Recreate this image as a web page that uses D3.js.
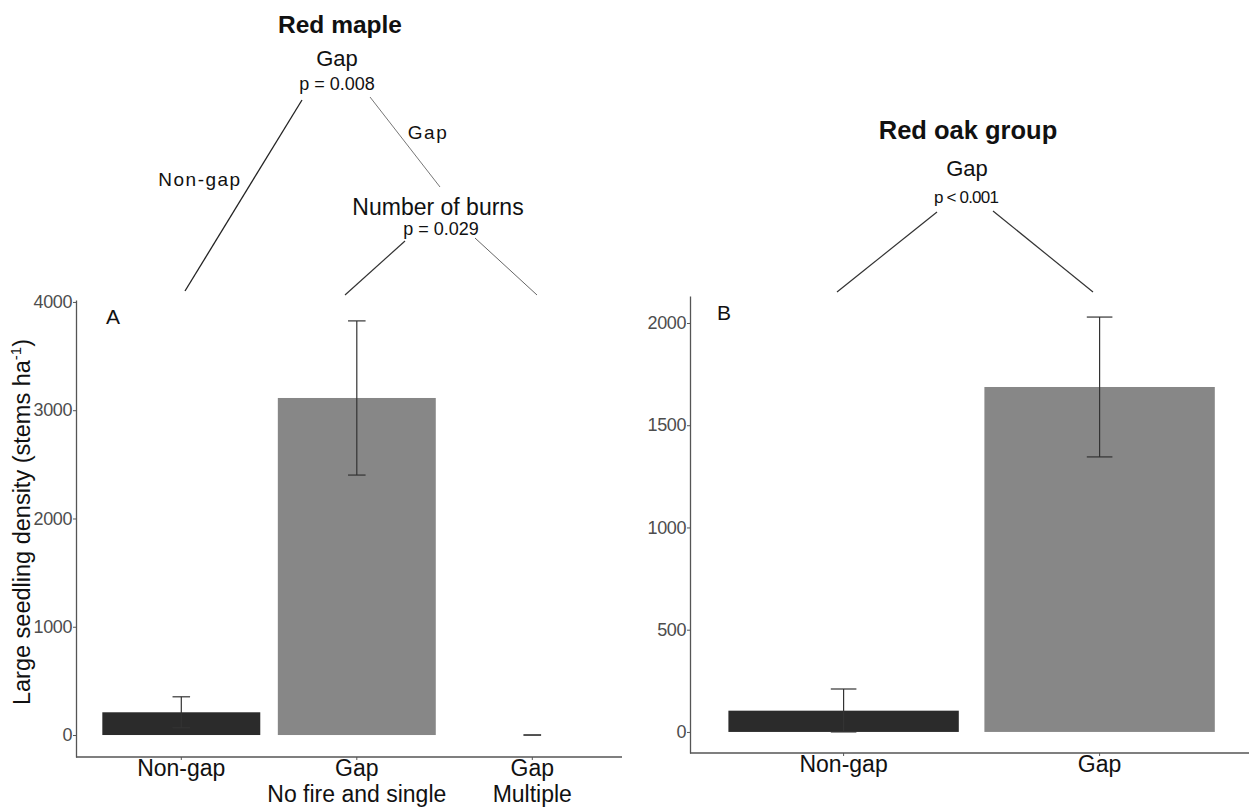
<!DOCTYPE html>
<html>
<head>
<meta charset="utf-8">
<script src="https://cdn.jsdelivr.net/npm/d3@7"></script>
<style>
  html, body { margin: 0; padding: 0; background: #fff; }
  svg { display: block; font-family: "Liberation Sans", Arial, sans-serif; }
</style>
</head>
<body>
<svg id="chart" width="1249" height="810"></svg>
<script>
// Panel A: red maple
const mapleCategories = ["Non-gap", "Gap|No fire and single", "Gap|Multiple"];
const mapleMeans = [210, 3113, 0];
const mapleSE = [143, 712, 0];
const mapleTicks = [0, 1000, 2000, 3000, 4000];

// Panel B: red oak group
const oakCategories = ["Non-gap", "Gap"];
const oakMeans = [104, 1687];
const oakSE = [106, 342];
const oakTicks = [0, 500, 1000, 1500, 2000];

const barFill = { "Non-gap": "#2b2b2b", "Gap": "#878787" };

const svg = d3.select("#chart");
const axisColor = "#555";
const tickTextColor = "#4d4d4d";

function drawPanel(opt) {
  const g = svg.append("g");
  const x = d3.scaleBand()
    .domain(opt.categories)
    .range([opt.left, opt.left + opt.step * (opt.categories.length + 0.2)])
    .paddingInner(0.1)
    .paddingOuter(0.15);
  const y = d3.scaleLinear().domain(opt.yDomain).range([opt.bottom, opt.top]);

  const data = opt.categories.map((c, i) => ({
    cat: c, group: c.split("|")[0], mean: opt.means[i], se: opt.se[i]
  }));

  // bars
  g.selectAll("rect.bar").data(data).join("rect")
    .attr("class", "bar")
    .attr("x", d => x(d.cat))
    .attr("width", x.bandwidth())
    .attr("y", d => y(d.mean))
    .attr("height", d => y(0) - y(d.mean))
    .attr("fill", d => barFill[d.group]);

  // error bars (mean ± SE, floored at 0)
  const cap = x.step() * 0.1 / 2;
  const eb = g.selectAll("g.err").data(data).join("g").attr("class", "err")
    .attr("stroke", "#333").attr("stroke-width", 1.2);
  eb.append("line")
    .attr("x1", d => x(d.cat) + x.bandwidth() / 2)
    .attr("x2", d => x(d.cat) + x.bandwidth() / 2)
    .attr("y1", d => y(d.mean + d.se))
    .attr("y2", d => y(Math.max(0, d.mean - d.se)));
  eb.append("line")
    .attr("x1", d => x(d.cat) + x.bandwidth() / 2 - cap)
    .attr("x2", d => x(d.cat) + x.bandwidth() / 2 + cap)
    .attr("y1", d => y(d.mean + d.se))
    .attr("y2", d => y(d.mean + d.se));
  eb.append("line")
    .attr("x1", d => x(d.cat) + x.bandwidth() / 2 - cap)
    .attr("x2", d => x(d.cat) + x.bandwidth() / 2 + cap)
    .attr("y1", d => y(Math.max(0, d.mean - d.se)))
    .attr("y2", d => y(Math.max(0, d.mean - d.se)));

  // y axis
  const ya = g.append("g")
    .attr("transform", `translate(${opt.left},0)`)
    .call(d3.axisLeft(y).tickValues(opt.ticks).tickFormat(d3.format("d"))
      .tickSize(3).tickPadding(1).tickSizeOuter(0));
  ya.select(".domain").attr("stroke", axisColor).attr("stroke-width", 1.3);
  ya.selectAll(".tick line").attr("stroke", axisColor);
  ya.selectAll(".tick text")
    .attr("fill", tickTextColor)
    .style("font-size", "18px")
    .style("letter-spacing", "-0.4px");

  // x axis
  const xa = g.append("g")
    .attr("transform", `translate(0,${opt.bottom})`)
    .call(d3.axisBottom(x).tickSize(3).tickSizeOuter(0).tickFormat(""));
  xa.select(".domain").remove();
  xa.selectAll(".tick line").attr("stroke", axisColor);
  g.append("line")
    .attr("x1", opt.left).attr("x2", opt.axisRight)
    .attr("y1", opt.bottom).attr("y2", opt.bottom)
    .attr("stroke", axisColor).attr("stroke-width", 1.3);

  // category labels (two lines where a split level is shown)
  data.forEach(d => {
    const parts = d.cat.split("|");
    const t = g.append("text")
      .attr("x", x(d.cat) + x.bandwidth() / 2)
      .attr("y", opt.bottom + 19)
      .attr("text-anchor", "middle")
      .attr("fill", "#111")
      .style("font-size", "23px");
    parts.forEach((p, k) => {
      t.append("tspan")
        .attr("x", x(d.cat) + x.bandwidth() / 2)
        .attr("dy", k === 0 ? 0 : 26)
        .text(p);
    });
  });

  // panel letter
  g.append("text")
    .attr("x", opt.letterX).attr("y", opt.top + 24)
    .attr("fill", "#111")
    .style("font-size", "21px")
    .text(opt.letter);

  return { g, x, y };
}

const A = drawPanel({
  categories: mapleCategories, means: mapleMeans, se: mapleSE, ticks: mapleTicks,
  left: 76, step: 175.5, top: 300, bottom: 757, yDomain: [-203, 4018],
  axisRight: 622, letter: "A", letterX: 106
});
const B = drawPanel({
  categories: oakCategories, means: oakMeans, se: oakSE, ticks: oakTicks,
  left: 690, step: 256, top: 296, bottom: 753, yDomain: [-103, 2132],
  axisRight: 1249, letter: "B", letterX: 717
});

// y axis title
svg.append("text")
  .attr("transform", "translate(30,522) rotate(-90)")
  .attr("text-anchor", "middle")
  .attr("fill", "#111")
  .style("font-size", "23.5px")
  .html('Large seedling density (stems ha<tspan dy="-9" font-size="15px">-1</tspan><tspan dy="9">)</tspan>');

// regression tree diagrams above the panels
function label(x, y, txt, size, opts = {}) {
  const t = svg.append("text")
    .attr("x", x).attr("y", y)
    .attr("text-anchor", "middle")
    .attr("fill", "#111")
    .style("font-size", size + "px")
    .text(txt);
  if (opts.bold) t.style("font-weight", "bold");
  if (opts.spacing) t.style("letter-spacing", opts.spacing);
  return t;
}
function edge(x1, y1, x2, y2, color, w) {
  svg.append("line")
    .attr("x1", x1).attr("y1", y1).attr("x2", x2).attr("y2", y2)
    .attr("stroke", color).attr("stroke-width", w);
}

// Red maple tree
label(340, 33, "Red maple", 24.5, { bold: true });
label(337, 66, "Gap", 22);
label(337, 90, "p = 0.008", 18);
edge(302, 100, 185, 291, "#222", 1.3);
edge(370, 97, 440, 187, "#777", 1);
label(428, 139, "Gap", 19, { spacing: "1.5px" });
label(200, 186, "Non-gap", 19, { spacing: "1.5px" });
label(438, 215, "Number of burns", 23);
label(441, 235, "p = 0.029", 18);
edge(405, 241, 345, 295, "#333", 1.2);
edge(475, 238, 537, 295, "#666", 1);

// Red oak group tree
label(968, 139, "Red oak group", 25.5, { bold: true });
label(967, 176, "Gap", 22);
label(966, 203, "p < 0.001", 17, { spacing: "-0.8px" });
edge(937, 212, 837, 292, "#333", 1.2);
edge(993, 211, 1093, 292, "#333", 1.2);
</script>
</body>
</html>
